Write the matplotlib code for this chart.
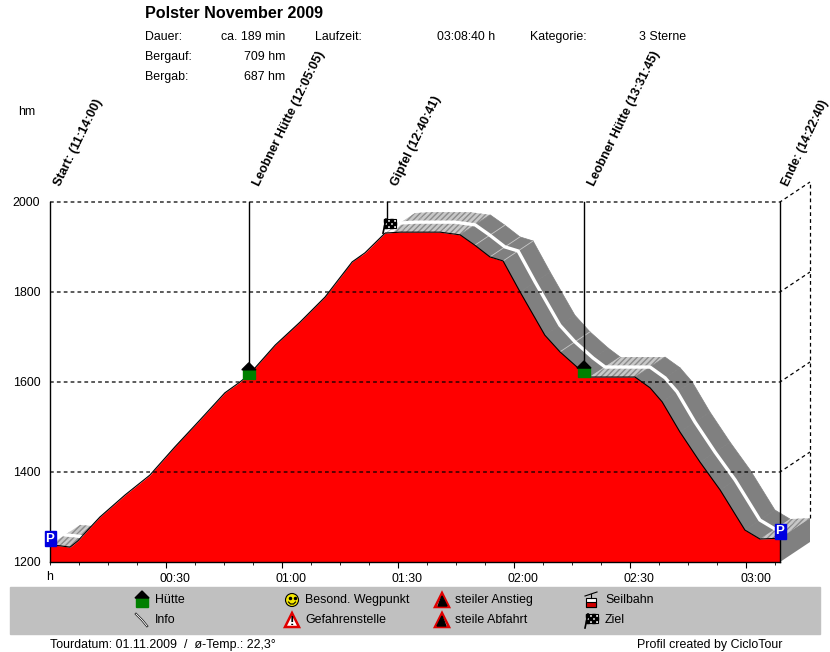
#!/usr/bin/env python3

import matplotlib
matplotlib.use("Agg")
import matplotlib.pyplot as plt
from matplotlib.patches import Polygon, Rectangle, Circle
from matplotlib.ticker import MultipleLocator

plt.rcParams['font.family'] = ['Liberation Sans', 'DejaVu Sans']

# profile
minutes = [0, 2.6, 5.2, 7.2, 10.3, 12.9, 19.4, 25.8, 32.3, 38.8, 45.2, 49.1, 51.4,
           58.2, 64.6, 71.1, 78.1, 81.4, 86.6, 90.5, 100.8, 106, 109.8, 113.7, 117.1,
           121.5, 127.9, 131.8, 136.5, 139.6, 151.2, 155.1, 158.2, 162.8, 168, 173.2,
           179.6, 183.5, 186.1, 188.67]
height = [1238, 1236, 1233, 1247, 1276, 1300, 1349, 1393, 1456, 1516, 1576, 1600, 1616,
          1682, 1733, 1789, 1867, 1887, 1931, 1933, 1933, 1927, 1904, 1878, 1869,
          1800, 1704, 1667, 1631, 1611, 1611, 1587, 1556, 1489, 1422, 1360,
          1271, 1251, 1252, 1253]

y_ticks = [1200, 1400, 1600, 1800, 2000]
x_ticks = [30, 60, 90, 120, 150, 180]
x_labels = ["00:30", "01:00", "01:30", "02:00", "02:30", "03:00"]

stop_minutes = [0, 51.4, 87.1, 138.0, 188.67]
stop_heights = [1238, 1616, 1933, 1611, 1253]
stop_labels = ["Start: (11:14:00)", "Leobner Hütte (12:05:05)", "Gipfel (12:40:41)",
               "Leobner Hütte (13:31:45)", "Ende: (14:22:40)"]

info_rows = [("Dauer:", "ca. 189 min"), ("Bergauf:", "709 hm"), ("Bergab:", "687 hm")]

# profile points where the ribbon shows a thin light seam
seams = [22, 23, 24, 27, 29]

# depth of the fake 3D view, in data units
depth_x = 30 / 3.869
depth_y = 20 * 800 / 360

W, H = 830, 652
FS = 8.9


def hut(fx, x, y, roof=6):
    fx.add_patch(Rectangle((x - 6, y - 5), 12, 10, color="#008000", zorder=20))
    fx.add_patch(Polygon([(x - 7, y - 4), (x, y - 5 - roof), (x + 7, y - 4)], color="black", zorder=21))


def flag(fx, x, y):
    # pole and small checkers
    fx.plot([x - 3, x], [y + 8, y - 6], color="black", lw=1.2, zorder=21)
    fx.add_patch(Rectangle((x - 2, y - 6), 12, 9, fc="white", ec="black", lw=.8, zorder=20))
    for i in range(4):
        for j in range(3):
            if (i + j) % 2 == 0:
                fx.add_patch(Rectangle((x - 2 + 3 * i, y - 6 + 3 * j), 3, 3, color="black", zorder=21))


def parking(fx, x, y):
    fx.add_patch(Rectangle((x - 5.5, y - 7.5), 11, 15, color="#0000e0", zorder=20))
    fx.text(x, y, "P", color="white", fontsize=9.5, fontweight="bold", ha="center", va="center", zorder=21)


def warning(fx, x, y):
    fx.add_patch(Polygon([(x - 7, y + 7), (x, y - 7), (x + 7, y + 7)], fc="white", ec="#e00000", lw=1.8, zorder=20))
    fx.text(x, y + 2, "!", color="black", fontsize=9.5, fontweight="bold", ha="center", va="center", zorder=21)


def steep(fx, x, y, up=True):
    fx.add_patch(Polygon([(x - 7, y + 7), (x, y - 7), (x + 7, y + 7)], fc="white", ec="#e00000", lw=1.8, zorder=20))
    if up:
        wedge = [(x - 4, y + 6), (x + 5, y + 6), (x, y - 4)]
    else:
        wedge = [(x - 5, y + 6), (x + 4, y + 6), (x, y - 4)]
    fx.add_patch(Polygon(wedge, color="black", zorder=21))


def main():
    fig = plt.figure(figsize=(W / 100, H / 100), dpi=100)

    ax = fig.add_axes([50 / W, (H - 562) / H, 730 / W, 360 / H])
    ax.set_xlim(0, 188.67)
    ax.set_ylim(1200, 2000)
    ax.patch.set_alpha(0)

    # ribbon behind the profile
    for i in range(len(minutes) - 1):
        x0, x1 = minutes[i], minutes[i + 1]
        y0, y1 = height[i], height[i + 1]
        quad = [(x0, y0), (x1, y1), (x1 + depth_x, y1 + depth_y), (x0 + depth_x, y0 + depth_y)]
        if y1 - y0 < -8:
            ax.add_patch(Polygon(quad, fc="#808080", ec="#808080", lw=.5, zorder=1, clip_on=False))
        else:
            ax.add_patch(Polygon(quad, fc="#c8c8c8", ec="#8c8c8c", lw=0, hatch="//////", zorder=1, clip_on=False))
    for i in seams:
        ax.plot([minutes[i], minutes[i] + depth_x], [height[i], height[i] + depth_y],
                color="#c8c8c8", lw=.6, zorder=1.5, clip_on=False)

    ax.plot([m + depth_x / 2 for m in minutes[:-1]], [h + depth_y / 2 for h in height[:-1]],
            color="white", lw=2.4, zorder=2, clip_on=False)

    # end wall
    ax.add_patch(Polygon([(minutes[-1], 1200), (minutes[-1], height[-1]),
                          (minutes[-1] + depth_x, height[-1] + depth_y),
                          (minutes[-1] + depth_x, 1200 + depth_y)],
                         fc="#808080", ec="none", zorder=3, clip_on=False))

    ax.fill_between(minutes, height, 1200, color="#ff0000", lw=0, zorder=4)
    ax.plot(minutes, height, color="black", lw=.8, zorder=5)

    # grid and back wall
    for y in y_ticks[1:]:
        ax.plot([0, 188.67, 188.67 + depth_x], [y, y, y + depth_y], color="black", lw=.9,
                dashes=(3, 2.5), zorder=6, clip_on=False)
    ax.plot([188.67 + depth_x] * 2, [height[-1] + depth_y, 2000 + depth_y], color="black", lw=.9,
            dashes=(3, 2.5), zorder=6, clip_on=False)

    ax.spines["top"].set_visible(False)
    for s in ["left", "right", "bottom"]:
        ax.spines[s].set_linewidth(1)
        ax.spines[s].set_zorder(7)

    ax.set_yticks(y_ticks)
    ax.tick_params(axis="y", length=0, pad=7, labelsize=FS)
    ax.set_xticks(x_ticks)
    ax.set_xticklabels(x_labels)
    ax.xaxis.set_minor_locator(MultipleLocator(7.5))
    ax.tick_params(axis="x", which="major", length=4, pad=4, labelsize=FS)
    ax.tick_params(axis="x", which="minor", length=2)
    offset = matplotlib.transforms.ScaledTranslation(9 / 100, 0, fig.dpi_scale_trans)
    for lab in ax.get_xticklabels():
        lab.set_transform(lab.get_transform() + offset)

    # overlay in pixels for furniture and symbols
    fx = fig.add_axes([0, 0, 1, 1], zorder=10)
    fx.set_xlim(0, W)
    fx.set_ylim(H, 0)
    fx.axis("off")
    fx.patch.set_alpha(0)

    def to_px(m, h):
        return fx.transData.inverted().transform(ax.transData.transform((m, h)))

    # stops
    for m, h, lab in zip(stop_minutes, stop_heights, stop_labels):
        x, y = to_px(m, h)
        if m > 188:
            # last one has to stay inside the picture
            fx.text(x + 6, 185, lab, rotation=65, rotation_mode="anchor", ha="left", va="center",
                    fontsize=8.7, fontweight="bold")
        else:
            fx.text(x + 8, 185, lab, rotation=64, rotation_mode="anchor", ha="left", va="center",
                    fontsize=9.1, fontweight="bold")
        if 0 < m < 188:
            fx.plot([x, x], [202, y - 8], color="black", lw=1, zorder=8)
    x, y = to_px(stop_minutes[1], stop_heights[1])
    hut(fx, x, y - 1)
    x, y = to_px(stop_minutes[3], stop_heights[3])
    hut(fx, x, y - 5)
    x, y = to_px(stop_minutes[2], stop_heights[2])
    flag(fx, x - 1, y - 7)
    x, y = to_px(stop_minutes[0], stop_heights[0])
    parking(fx, x, y - 6)
    x, y = to_px(stop_minutes[4], stop_heights[4])
    parking(fx, x, y - 7)

    # header
    fx.text(145, 13, "Polster November 2009", fontsize=11.6, fontweight="bold", va="center")
    for row, (k, v) in zip([37, 57, 77], info_rows):
        fx.text(145, row, k, fontsize=FS, va="center")
        fx.text(285, row, v, fontsize=FS, va="center", ha="right")
    fx.text(315, 37, "Laufzeit:", fontsize=FS, va="center")
    fx.text(495, 37, "03:08:40 h", fontsize=FS, va="center", ha="right")
    fx.text(530, 37, "Kategorie:", fontsize=FS, va="center")
    fx.text(639, 37, "3 Sterne", fontsize=FS, va="center")
    fx.text(18, 112, "hm", fontsize=FS, va="center")
    fx.text(50, 577, "h", fontsize=FS, va="center", ha="center")

    # legend bar
    fx.add_patch(Rectangle((10, 587), 810, 47, color="#c0c0c0", zorder=1))
    for x, y, lab in [(155, 600, "Hütte"), (155, 620, "Info"),
                      (305, 600, "Besond. Wegpunkt"), (305, 620, "Gefahrenstelle"),
                      (455, 600, "steiler Anstieg"), (455, 620, "steile Abfahrt"),
                      (605, 600, "Seilbahn"), (605, 620, "Ziel")]:
        fx.text(x, y, lab, fontsize=FS, va="center", zorder=5)

    hut(fx, 142, 602, roof=6)
    # info pin
    fx.plot([136, 142, 147], [614, 620, 626], color="black", lw=1.6, zorder=20)
    fx.plot([136, 142, 147], [614, 620, 626], color="white", lw=.7, zorder=21)
    # smiley
    fx.add_patch(Circle((292, 600), 6.5, fc="#f5e800", ec="black", lw=.8, zorder=20))
    fx.plot([290, 294.5], [598, 598], ls="none", marker="o", ms=1.5, color="black", zorder=21)
    fx.plot([288.5, 290.5, 293.5, 295.5], [602, 604, 604, 602], color="black", lw=.8, zorder=21)
    warning(fx, 292, 620)
    steep(fx, 442, 600)
    steep(fx, 442, 620, up=False)
    # cable car
    fx.plot([585, 597], [596, 592], color="black", lw=.8, zorder=21)
    fx.plot([591, 591], [594, 598], color="black", lw=.8, zorder=21)
    fx.add_patch(Rectangle((586, 598), 10, 9, fc="white", ec="black", lw=.8, zorder=20))
    fx.add_patch(Rectangle((586, 602), 10, 5, fc="#d00000", ec="black", lw=.8, zorder=21))
    flag(fx, 588, 620)

    # footer
    fx.text(50, 645, "Tourdatum: 01.11.2009  /  ø-Temp.: 22,3°", fontsize=FS, va="center")
    fx.text(637, 645, "Profil created by CicloTour", fontsize=FS, va="center")

    fig.savefig("out.png", dpi=100)


if __name__ == "__main__":
    main()
